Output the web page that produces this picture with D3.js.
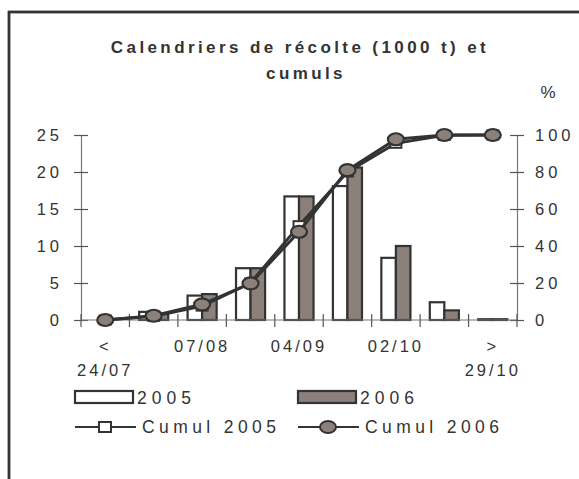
<!DOCTYPE html>
<html>
<head>
<meta charset="utf-8">
<script src="https://cdn.jsdelivr.net/npm/d3@7"></script>
<style>
  body { margin: 0; background: #fff; }
  svg text { font-family: "Liberation Sans", Arial, sans-serif; fill: #333; }
</style>
</head>
<body>
<svg width="579" height="479"></svg>
<script>
// harvest calendar, 1000 t per fortnight + cumulative %
const categories = ["< 24/07", "24/07", "07/08", "21/08", "04/09", "18/09", "02/10", "16/10", "> 29/10"];
const tickLabels = ["< 24/07", "", "07/08", "", "04/09", "", "02/10", "", "> 29/10"];
const harvest2005 = [0, 1.1, 3.3, 7.0, 16.7, 18.1, 8.4, 2.4, 0.1];
const harvest2006 = [0, 0.9, 3.5, 7.0, 16.7, 20.6, 10.0, 1.3, 0.1];
const cumul2005 = [0, 2.0, 7.5, 20.0, 51.0, 80.0, 95.5, 99.8, 100];
const cumul2006 = [0, 2.3, 8.5, 19.8, 47.7, 81.0, 97.7, 100, 100];
const leftTicks = [0, 5, 10, 15, 20, 25];
const rightTicks = [0, 20, 40, 60, 80, 100];

const svg = d3.select("svg");
const dark = "#333";
const brown = "#8c807b";

// frame (cut off at right and bottom like the original)
svg.append("rect")
  .attr("x", 9).attr("y", 12)
  .attr("width", 700).attr("height", 600)
  .attr("fill", "none").attr("stroke", dark).attr("stroke-width", 2.8);

// title
const title = svg.append("text")
  .attr("text-anchor", "middle")
  .attr("font-weight", "bold")
  .attr("font-size", "17px")
  .attr("letter-spacing", "3.4px");
title.append("tspan").attr("x", 300).attr("y", 53).text("Calendriers de récolte (1000 t) et");
title.append("tspan").attr("x", 306).attr("y", 79).text("cumuls");

const plotL = 81, plotR = 517, plotT = 135, plotB = 320;

const x = d3.scaleBand().domain(categories).range([plotL, plotR]).padding(0);
const x1 = d3.scaleBand().domain(["2005", "2006"])
  .range([x.bandwidth() * 0.2, x.bandwidth() * 0.8]).padding(0);
const y = d3.scaleLinear().domain([0, 25]).range([plotB, plotT]);
const yR = d3.scaleLinear().domain([0, 100]).range([plotB, plotT]);

// axes
const tickStyle = g => {
  g.select(".domain").attr("stroke", "#777").attr("stroke-width", 1.2);
  g.selectAll(".tick line").attr("stroke", "#555").attr("stroke-width", 1.2);
  g.selectAll(".tick text")
    .attr("font-size", "16.5px")
    .attr("letter-spacing", "4px")
    .attr("fill", dark);
};

svg.append("g")
  .attr("transform", `translate(${plotL},0)`)
  .call(d3.axisLeft(y).tickValues(leftTicks).tickSize(0).tickPadding(18))
  .call(tickStyle)
  .call(g => g.selectAll(".tick line").attr("x1", -7).attr("x2", 7));

svg.append("g")
  .attr("transform", `translate(${plotR},0)`)
  .call(d3.axisRight(yR).tickValues(rightTicks).tickSize(0).tickPadding(18))
  .call(tickStyle)
  .call(g => g.selectAll(".tick line").attr("x1", -7).attr("x2", 7));

// % unit label
svg.append("text")
  .attr("x", 548).attr("y", 98)
  .attr("text-anchor", "middle")
  .attr("font-size", "17px")
  .text("%");

// bars
const groups = svg.append("g").selectAll("g")
  .data(categories)
  .join("g")
  .attr("transform", d => `translate(${x(d)},0)`);

groups.append("rect")
  .attr("x", x1("2005"))
  .attr("y", (d, i) => y(harvest2005[i]))
  .attr("width", x1.bandwidth())
  .attr("height", (d, i) => plotB - y(harvest2005[i]))
  .attr("fill", "#fff").attr("stroke", dark).attr("stroke-width", 2.2);

groups.append("rect")
  .attr("x", x1("2006"))
  .attr("y", (d, i) => y(harvest2006[i]))
  .attr("width", x1.bandwidth())
  .attr("height", (d, i) => plotB - y(harvest2006[i]))
  .attr("fill", brown).attr("stroke", dark).attr("stroke-width", 2.2);

// x axis drawn over bars
const xTicks = d3.range(categories.length + 1).map(i => plotL + i * x.step());
const xAxis = svg.append("g");
xAxis.append("line")
  .attr("x1", plotL).attr("x2", plotR)
  .attr("y1", plotB).attr("y2", plotB)
  .attr("stroke", "#777").attr("stroke-width", 1.2);
xAxis.selectAll(".xt").data(xTicks).join("line")
  .attr("x1", d => d).attr("x2", d => d)
  .attr("y1", plotB - 6).attr("y2", plotB + 7)
  .attr("stroke", "#555").attr("stroke-width", 1.2);

// category labels, every second one, may wrap on two lines
xAxis.selectAll(".xl").data(categories).join("text")
  .attr("text-anchor", "middle")
  .attr("font-size", "16.5px")
  .attr("letter-spacing", "3px")
  .each(function (d, i) {
    const lbl = tickLabels[i];
    if (!lbl) return;
    const parts = lbl.split(" ");
    const cx = x(d) + x.bandwidth() / 2;
    parts.forEach((p, j) => {
      d3.select(this).append("tspan")
        .attr("x", cx)
        .attr("y", parts.length > 1 ? 352 + j * 24 : 352)
        .text(p);
    });
  });

// cumulative lines
const line = d3.line()
  .x((d, i) => x(categories[i]) + x.bandwidth() / 2)
  .y(d => yR(d));

svg.append("path").datum(cumul2005)
  .attr("d", line).attr("fill", "none")
  .attr("stroke", dark).attr("stroke-width", 3);
svg.append("g").selectAll("rect").data(cumul2005).join("rect")
  .attr("x", (d, i) => x(categories[i]) + x.bandwidth() / 2 - 5.5)
  .attr("y", d => yR(d) - 4.5)
  .attr("width", 11).attr("height", 9)
  .attr("fill", "#fff").attr("stroke", dark).attr("stroke-width", 2);

svg.append("path").datum(cumul2006)
  .attr("d", line).attr("fill", "none")
  .attr("stroke", dark).attr("stroke-width", 3);
svg.append("g").selectAll("ellipse").data(cumul2006).join("ellipse")
  .attr("cx", (d, i) => x(categories[i]) + x.bandwidth() / 2)
  .attr("cy", d => yR(d))
  .attr("rx", 8).attr("ry", 6)
  .attr("fill", brown).attr("stroke", dark).attr("stroke-width", 2.2);

// legend
const legend = svg.append("g").attr("font-size", "17.5px");
const legendCols = [75, 298];
const barKeys = [["2005", "#fff"], ["2006", brown]];
barKeys.forEach(([name, fill], i) => {
  const lx = legendCols[i];
  legend.append("rect")
    .attr("x", lx).attr("y", 391).attr("width", 58).attr("height", 12)
    .attr("fill", fill).attr("stroke", dark).attr("stroke-width", 2.2);
  legend.append("text")
    .attr("x", lx + 62).attr("y", 404)
    .attr("letter-spacing", "5px")
    .text(name);
});

const lineKeys = ["Cumul 2005", "Cumul 2006"];
lineKeys.forEach((name, i) => {
  const lx = legendCols[i];
  legend.append("line")
    .attr("x1", lx).attr("x2", lx + 61)
    .attr("y1", 427).attr("y2", 427)
    .attr("stroke", dark).attr("stroke-width", 2);
  if (i === 0) {
    legend.append("rect")
      .attr("x", lx + 24).attr("y", 422).attr("width", 12).attr("height", 10)
      .attr("fill", "#fff").attr("stroke", dark).attr("stroke-width", 2);
  } else {
    legend.append("ellipse")
      .attr("cx", lx + 30).attr("cy", 427).attr("rx", 8).attr("ry", 6)
      .attr("fill", brown).attr("stroke", dark).attr("stroke-width", 2);
  }
  legend.append("text")
    .attr("x", lx + 67).attr("y", 433)
    .attr("letter-spacing", "4.4px")
    .text(name);
});
</script>
</body>
</html>
